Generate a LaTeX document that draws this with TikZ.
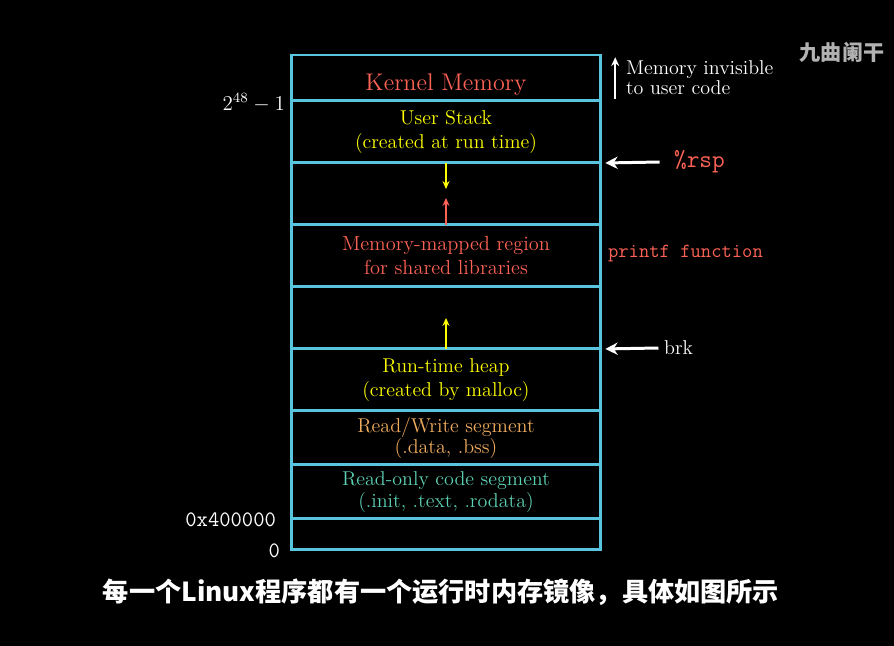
\documentclass[tikz,border=0pt]{standalone}
\usepackage{fontspec}
\usetikzlibrary{positioning,arrows.meta}
\newfontfamily\cjk{Noto Sans CJK SC}
\definecolor{segblue}{HTML}{58C4DD}
\definecolor{segred}{HTML}{FC6255}
\definecolor{segyellow}{HTML}{FFFF00}
\definecolor{seggold}{HTML}{F0AC5F}
\definecolor{segteal}{HTML}{5CD0B3}

\begin{document}
\begin{tikzpicture}[
    x=0.02cm, y=-0.02cm,
    seg/.style={draw=segblue, line width=1.7pt, minimum width=6.2cm, outer sep=0pt, inner sep=0pt, align=center, font=\fontsize{11.4}{14}\selectfont},
    side/.style={text=white, inner sep=1pt, align=left, font=\fontsize{11.4}{10.2}\selectfont},
    addr/.style={text=white, inner sep=1pt, anchor=east, font=\ttfamily\fontsize{12.5}{14}\selectfont},
    wharrow/.style={white, line width=1.7pt, -{Stealth[length=7pt, width=7pt]}},
    thinarrow/.style={line width=1.1pt, -{Stealth[length=4.5pt, width=4pt]}}
]

% background, fixes the size
\fill[black] (0,0) rectangle (894,646);

% segments, top to bottom
\node[seg, minimum height=0.92cm, anchor=north, text=segred, text height=17.5pt, text depth=2.7pt,
      font=\fontsize{13.7}{16}\selectfont] (kernel) at (446,55) {Kernel Memory};
\node[seg, minimum height=1.24cm, below=0pt of kernel, text=segyellow] (stack) {User Stack\\(created at run time)};
\node[seg, minimum height=1.24cm, below=0pt of stack] (gapa) {};
\node[seg, minimum height=1.24cm, below=0pt of gapa, text=segred, font=\fontsize{11.6}{13.6}\selectfont] (mmap) {Memory-mapped region\\for shared libraries};
\node[seg, minimum height=1.24cm, below=0pt of mmap] (gapb) {};
\node[seg, minimum height=1.24cm, below=0pt of gapb, text=segyellow] (heap) {Run-time heap\\(created by malloc)};
\node[seg, minimum height=1.08cm, below=0pt of heap, text=seggold, font=\fontsize{11.4}{11.3}\selectfont] (rw) {Read/Write segment\\(.data, .bss)};
\node[seg, minimum height=1.08cm, below=0pt of rw, text=segteal, font=\fontsize{11.4}{12.5}\selectfont] (ro) {Read-only code segment\\(.init, .text, .rodata)};
\node[seg, minimum height=0.62cm, below=0pt of ro] (low) {};

% growth arrows
\draw[thinarrow, segyellow] (stack.south) -- ++(0,26);
\draw[thinarrow, segred] (mmap.north) -- ++(0,-27);
\draw[thinarrow, segyellow] (heap.north) -- ++(0,-31);

% addresses on the left
\node[text=white, inner sep=1pt, anchor=east, font=\fontsize{12}{14}\selectfont] (top) at (287,103) {$2^{48}-1$};
\node[addr] (start) at (278,520) {0x400000};
\node[addr] (zero) at (282,551) {0};

% notes on the right
\node[side, anchor=west] (invis) at (624,78) {Memory invisible\\to user code};
\draw[white, line width=1.2pt, -{Stealth[length=5pt, width=4.5pt]}] ([xshift=-5pt, yshift=-1pt]invis.south west) -- ([xshift=-5pt, yshift=1pt]invis.north west);

\node[anchor=west, text=segred, inner sep=1pt, font=\ttfamily\fontsize{14}{16}\selectfont] (rsp) at (672,162) {\%rsp};
\draw[wharrow] ([xshift=-7pt]rsp.west) -- ([xshift=2.5pt]stack.south east);

\node[anchor=west, text=segred, inner sep=1pt, font=\ttfamily\fontsize{11.4}{14}\selectfont] (printf) at (606,254) {printf function};

\node[side, anchor=west] (brk) at (662,348) {brk};
\draw[wharrow] ([xshift=-2pt]brk.west) -- ([xshift=2.5pt]heap.north east);

% watermark and subtitle
\node[text=black!30!white, font=\cjk\bfseries\fontsize{12}{14}\selectfont] (mark) at (842,52) {九曲阑干};
\node[text=white, font=\cjk\bfseries\fontsize{14.9}{18}\selectfont] (caption) at (441,592) {每一个Linux程序都有一个运行时内存镜像，具体如图所示};

\end{tikzpicture}
\end{document}
